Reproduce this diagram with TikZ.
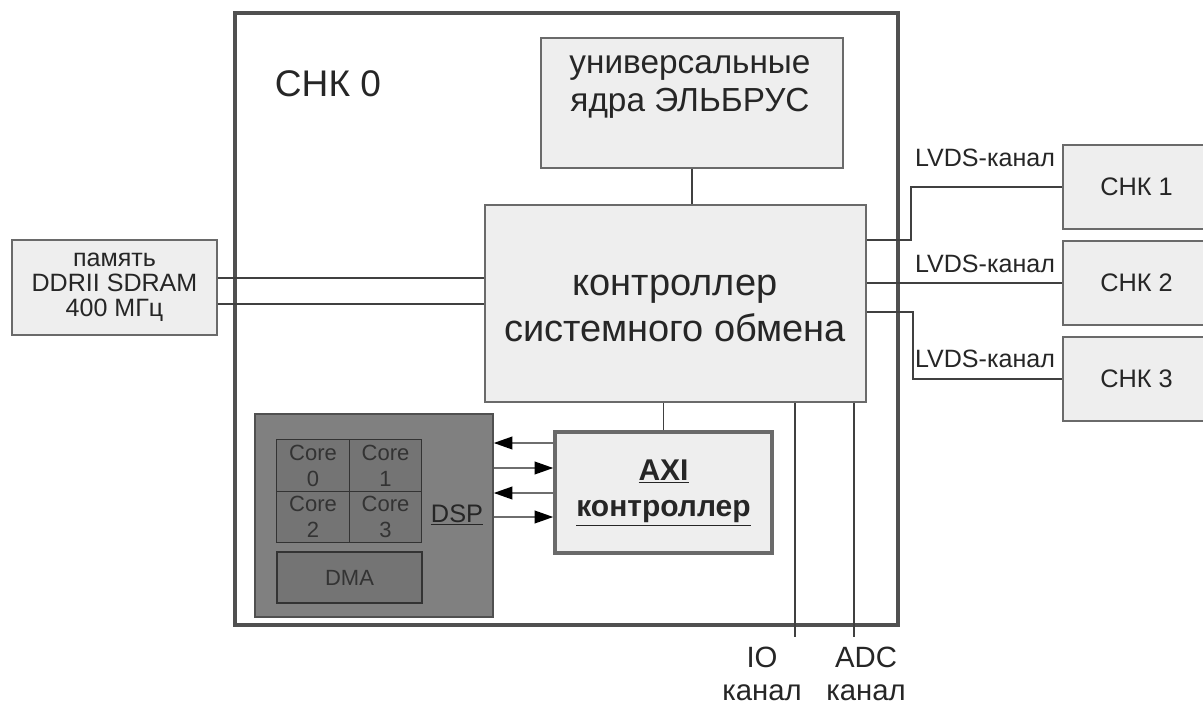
\documentclass[tikz,border=0pt]{standalone}
\usepackage{fontspec}
\setmainfont{Liberation Sans}
\usetikzlibrary{arrows.meta,calc}
\definecolor{framec}{HTML}{505050}
\definecolor{boxfill}{HTML}{EEEEEE}
\definecolor{boxline}{HTML}{6A6A6A}
\definecolor{dspfill}{HTML}{808080}
\definecolor{dspline}{HTML}{505050}
\definecolor{corefill}{HTML}{747474}
\definecolor{txt}{HTML}{262626}
\definecolor{wire}{HTML}{404040}
\definecolor{arrwire}{HTML}{6E6E6E}
\newcommand\myfs[2]{\fontsize{#1}{#2}\selectfont}
\tikzset{
  lightbox/.style={draw=boxline, line width=1.1pt, fill=boxfill, text=txt, align=center, inner sep=0pt},
  outerbox/.style={draw=framec, line width=3pt, inner sep=0pt},
  dspbox/.style={draw=dspline, line width=1.1pt, fill=dspfill, inner sep=0pt},
  corebox/.style={draw=black!80, line width=1pt, fill=corefill, text=black!80, align=center, inner sep=0pt},
  axibox/.style={draw=boxline, line width=2.6pt, fill=boxfill, text=txt, align=center, inner sep=0pt},
  wireline/.style={draw=wire, line width=0.9pt},
  arr/.style={draw=arrwire, line width=1.3pt, -{Triangle[length=14pt,width=9.5pt,color=black,fill=black]}},
  lbl/.style={text=txt, align=center, inner sep=0pt}
}
\begin{document}
\begin{tikzpicture}[x=0.75pt,y=-0.75pt]
\useasboundingbox (0,0) rectangle (1203,706);
\clip (0,0) rectangle (1203,706);
\fill[white] (0,0) rectangle (1203,706);

% outer СНК 0 frame
\node[outerbox, minimum width=497.25pt, minimum height=459pt] (snk0) at (566.5,319) {};
\node[lbl, font=\myfs{27.8}{30}] (snk0lbl) at (328,84) {СНК 0};

% boxes
\node[lightbox, minimum width=226.5pt, minimum height=97.5pt] (univ) at (692,103) {};
\node[lbl, font=\myfs{25}{28}] (univtxt) at (690,87) {универсальные\\ядра ЭЛЬБРУС};
\node[lightbox, minimum width=285.75pt, minimum height=147.75pt] (ctrl) at (675.5,303.5) {};
\node[lbl, font=\myfs{28.5}{34.5}] (ctrltxt) at (675,308) {контроллер\\системного обмена};
\node[lightbox, minimum width=153.75pt, minimum height=71.25pt, font=\myfs{18.8}{18.8}] (mem) at (114.5,287.5) {память\\DDRII SDRAM\\400 МГц};

% DSP
\node[dspbox, minimum width=178.5pt, minimum height=152.25pt] (dsp) at (374,515.5) {};
\node[corebox, minimum width=54.4pt, minimum height=38.6pt, font=\myfs{16.5}{19.5}] (c0) at (313,465.5) {Core\\0};
\node[corebox, minimum width=54.4pt, minimum height=38.6pt, font=\myfs{16.5}{19.5}] (c1) at (385.5,465.5) {Core\\1};
\node[corebox, minimum width=54.4pt, minimum height=38.6pt, font=\myfs{16.5}{19.5}] (c2) at (313,517) {Core\\2};
\node[corebox, minimum width=54.4pt, minimum height=38.6pt, font=\myfs{16.5}{19.5}] (c3) at (385.5,517) {Core\\3};
\node[corebox, minimum width=108.75pt, minimum height=38.25pt, font=\myfs{16.5}{19.5}] (dma) at (349.5,577.5) {DMA};
\node[lbl, text=black!85, font=\myfs{19}{20}] (dsplbl) at (457,515) {\underline{DSP}};

% AXI
\node[axibox, minimum width=162.75pt, minimum height=90.75pt, font=\bfseries\myfs{22.5}{27.5}] (axi) at (663.5,492.5) {\underline{AXI}\\\underline{контроллер}};

% right СНК boxes
\node[lightbox, minimum width=110.25pt, minimum height=63pt, font=\myfs{19}{20}] (snk1) at (1136.5,187) {СНК 1};
\node[lightbox, minimum width=110.25pt, minimum height=63pt, font=\myfs{19}{20}] (snk2) at (1136.5,283) {СНК 2};
\node[lightbox, minimum width=110.25pt, minimum height=63pt, font=\myfs{19}{20}] (snk3) at (1136.5,379) {СНК 3};

% helper coordinates
\coordinate (m1) at (0,278);
\coordinate (m2) at (0,304);
\coordinate (a1) at (0,443);
\coordinate (a2) at (0,468);
\coordinate (a3) at (0,493);
\coordinate (a4) at (0,517);
\coordinate (io) at (795,637);
\coordinate (adc) at (854,637);
\coordinate (l1a) at (911,240);
\coordinate (l3a) at (913,312);

% connectors
\draw[wireline] (univ.south) -- (univ.south |- ctrl.north);
\draw[wireline] (mem.east |- m1) -- (ctrl.west |- m1);
\draw[wireline] (mem.east |- m2) -- (ctrl.west |- m2);
\draw[wireline] (axi.north) -- (axi.north |- ctrl.south);
\draw[wireline] (ctrl.south -| io) -- (io);
\draw[wireline] (ctrl.south -| adc) -- (adc);
\draw[wireline] (ctrl.east |- l1a) -- (l1a) |- (snk1.west);
\draw[wireline] (ctrl.east |- snk2.west) -- (snk2.west);
\draw[wireline] (ctrl.east |- l3a) -- (l3a) |- (snk3.west);

\draw[arr] (axi.west |- a1) -- (dsp.east |- a1);
\draw[arr] (dsp.east |- a2) -- (axi.west |- a2);
\draw[arr] (axi.west |- a3) -- (dsp.east |- a3);
\draw[arr] (dsp.east |- a4) -- (axi.west |- a4);

% labels
\node[lbl, font=\myfs{18.8}{20}] (lv1) at (985,158) {LVDS-канал};
\node[lbl, font=\myfs{18.8}{20}] (lv2) at (985,264) {LVDS-канал};
\node[lbl, font=\myfs{18.8}{20}] (lv3) at (985,359) {LVDS-канал};
\node[lbl, font=\myfs{22}{25}] (iolbl) at (762,674) {IO\\канал};
\node[lbl, font=\myfs{22}{25}] (adclbl) at (866,674) {ADC\\канал};
\end{tikzpicture}
\end{document}
